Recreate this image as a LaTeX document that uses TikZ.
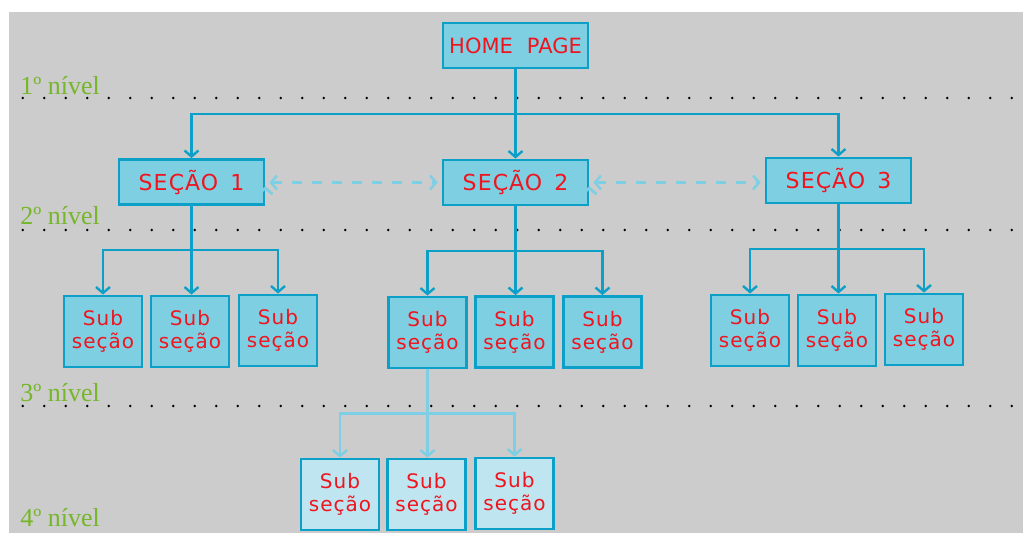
\documentclass[tikz,border=0pt]{standalone}
\usepackage{fontspec}
\usepackage{tikz}
\usetikzlibrary{arrows.meta,positioning,calc}
\newfontfamily\boxfont[LetterSpace=5]{DejaVu Sans}
\newfontfamily\homefont{DejaVu Sans}
\newfontfamily\levelfont{Liberation Serif}
\definecolor{bggrey}{RGB}{204,204,204}
\definecolor{boxfill}{RGB}{126,207,226}
\definecolor{boxline}{RGB}{12,160,200}
\definecolor{lightfill}{RGB}{190,229,240}
\definecolor{lightline}{RGB}{125,207,230}
\definecolor{labelred}{RGB}{240,20,30}
\definecolor{levelgreen}{RGB}{118,182,42}

\begin{document}
\begin{tikzpicture}[x=0.5pt,y=-0.5pt,
    >={Straight Barb[length=3pt,width=7pt]},
    pagebox/.style={draw=boxline,fill=boxfill,line width=1.4pt,minimum width=72.5pt,minimum height=22.5pt,
      inner sep=0pt,text=labelred,font=\boxfont\fontsize{11}{13}\selectfont},
    homebox/.style={pagebox,font=\homefont\fontsize{10.5}{13}\selectfont},
    subbox/.style={pagebox,minimum width=39pt,minimum height=35.5pt,align=center,
      font=\boxfont\fontsize{10}{11.5}\selectfont},
    subsubbox/.style={subbox,fill=lightfill},
    link/.style={->,draw=boxline,line width=1.2pt},
    lightlink/.style={link,draw=lightline},
    crosslink/.style={<->,draw=lightline,line width=1.2pt,dash pattern=on 5pt off 5pt,
      shorten <=2pt,shorten >=2pt},
    level/.style={anchor=base west,inner sep=0pt,text=levelgreen,font=\levelfont\fontsize{13}{15}\selectfont},
    dots/.style={line width=1.4pt,line cap=round,dash pattern=on 0pt off 10.75pt}]
  \useasboundingbox (0,0) rectangle (1029,533);
  \fill[bggrey] (9,12) rectangle (1023,533);

  % level separators
  \foreach \y in {98,230,406}
    \draw[dots] (22.7,\y) -- (1016,\y);
  \node[level] (lv1) at (20,95) {1º nível};
  \node[level] (lv2) at (20,225) {2º nível};
  \node[level] (lv3) at (20,402) {3º nível};
  \node[level] (lv4) at (20,527) {4º nível};

  % pages
  \node[homebox] (home) at (515.5,45.5) {HOME\hspace{7pt}PAGE};
  \node[pagebox] (sec1) at (191.5,182) {SEÇÃO\hspace{6pt}1};
  \node[pagebox] (sec2) at (515.5,182.5) {SEÇÃO\hspace{6pt}2};
  \node[pagebox] (sec3) at (838.5,180.5) {SEÇÃO\hspace{6pt}3};

  \node[subbox] (s1a) at (103,331.5) {Sub\\seção};
  \node[subbox] (s1b) at (190,331.5) {Sub\\seção};
  \node[subbox] (s1c) at (278,330.5) {Sub\\seção};
  \node[subbox] (s2a) at (427.5,332.5) {Sub\\seção};
  \node[subbox] (s2b) at (514.5,332) {Sub\\seção};
  \node[subbox] (s2c) at (602.5,332) {Sub\\seção};
  \node[subbox] (s3a) at (750,330.5) {Sub\\seção};
  \node[subbox] (s3b) at (837,330.5) {Sub\\seção};
  \node[subbox] (s3c) at (924,329.5) {Sub\\seção};

  \node[subsubbox] (s4a) at (340,494.5) {Sub\\seção};
  \node[subsubbox] (s4b) at (426.5,494.5) {Sub\\seção};
  \node[subsubbox] (s4c) at (514.5,493.5) {Sub\\seção};

  % links
  \draw[link] (home.south) -- (sec2.north);
  \draw[link] (home.south) |- ($(home.south)!0.5!(sec2.north)$) -| (sec1.north);
  \draw[link] (home.south) |- ($(home.south)!0.5!(sec2.north)$) -| (sec3.north);
  \foreach \s/\a/\b/\c in {sec1/s1a/s1b/s1c,sec2/s2a/s2b/s2c,sec3/s3a/s3b/s3c} {
    \draw[link] (\s.south) -- (\s.south |- \b.north);
    \draw[link] (\s.south) |- ($(\s.south)!0.5!(\b.north)$) -| (\a.north);
    \draw[link] (\s.south) |- ($(\s.south)!0.5!(\b.north)$) -| (\c.north);
  }
  \draw[lightlink] (s2a.south) -- (s2a.south |- s4b.north);
  \draw[lightlink] (s2a.south) |- ($(s2a.south)!0.5!(s4b.north)$) -| (s4a.north);
  \draw[lightlink] (s2a.south) |- ($(s2a.south)!0.5!(s4b.north)$) -| (s4c.north);

  \path[crosslink] (sec1.east |- sec2) edge (sec2.west);
  \path[crosslink] (sec2.east) edge (sec3.west |- sec2);
\end{tikzpicture}
\end{document}
